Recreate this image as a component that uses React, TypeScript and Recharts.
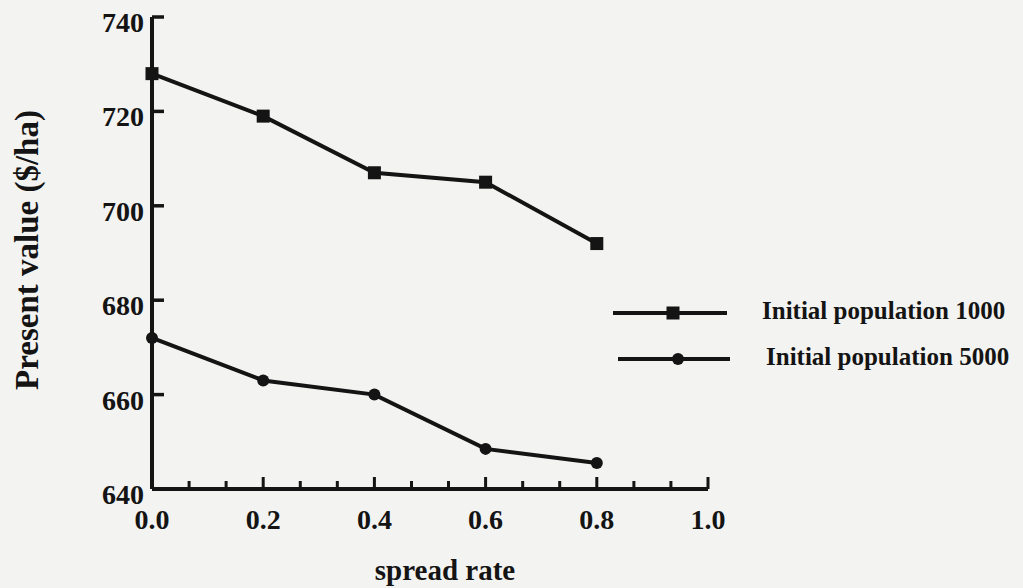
import { LineChart, Line, XAxis, YAxis, Legend } from "recharts"

const spreadRate = [0, 0.2, 0.4, 0.6, 0.8]
const initialPop1000 = [728, 719, 707, 705, 692]
const initialPop5000 = [672, 663, 660, 648.5, 645.5]

const xMajorTicks = [0, 0.2, 0.4, 0.6, 0.8, 1.0]
const xMinorTicks = [0.0667, 0.1333, 0.2667, 0.3333, 0.4667, 0.5333, 0.6667, 0.7333, 0.8667, 0.9333]
const yTicks = [640, 660, 680, 700, 720, 740]

const seriesNames = ["Initial population 1000", "Initial population 5000"]

const INK = "#141414"
const FONT = "'Liberation Serif', 'Times New Roman', serif"

const data = spreadRate.map((x, i) => ({
  x,
  p1000: initialPop1000[i],
  p5000: initialPop5000[i],
}))

const allXTicks = [...xMajorTicks, ...xMinorTicks].sort((a, b) => a - b)

const SquareDot = ({ cx, cy, index }: any) => (
  <rect key={`sq-${index}`} x={cx - 6.5} y={cy - 6.5} width={13} height={13} fill={INK} />
)

const RoundDot = ({ cx, cy, index }: any) => (
  <circle key={`ci-${index}`} cx={cx} cy={cy} r={6} fill={INK} />
)

// y ticks point inward (to the right of the axis)
const YTick = ({ x, y, payload }: any) => (
  <g>
    <line x1={x} x2={x + 12} y1={y} y2={y} stroke={INK} strokeWidth={3.5} />
    <text x={x - 8} y={y + 15} textAnchor="end" fontFamily={FONT} fontWeight="bold" fontSize={28} fill={INK}>
      {payload.value}
    </text>
  </g>
)

// x ticks point up; only the 0.2 steps get a label
const XTick = ({ x, y, payload }: any) => {
  const major = xMajorTicks.some((t) => Math.abs(t - payload.value) < 1e-6)
  return (
    <g>
      <line x1={x} x2={x} y1={y} y2={y - (major ? 12 : 8)} stroke={INK} strokeWidth={3} />
      {major && (
        <text x={x} y={y + 40} textAnchor="middle" fontFamily={FONT} fontWeight="bold" fontSize={28} fill={INK}>
          {payload.value.toFixed(1)}
        </text>
      )}
    </g>
  )
}

const CustomLegend = ({ payload }: any) => (
  <svg width={420} height={100}>
    {payload?.map((entry: any, index: number) => {
      const y = index === 0 ? 33 : 79
      const x0 = index === 0 ? 13 : 18
      const x1 = index === 0 ? 127 : 130
      const mx = index === 0 ? 73 : 78
      const tx = index === 0 ? 162 : 166
      return (
        <g key={index}>
          <line x1={x0} x2={x1} y1={y} y2={y} stroke={INK} strokeWidth={4} />
          {index === 0 ? (
            <rect x={mx - 6.5} y={y - 6.5} width={13} height={13} fill={INK} />
          ) : (
            <circle cx={mx} cy={y} r={6} fill={INK} />
          )}
          <text x={tx} y={y + 6} fontFamily={FONT} fontWeight="bold" fontSize={25} fill={INK}>
            {entry.value}
          </text>
        </g>
      )
    })}
  </svg>
)

export default function App() {
  return (
    <div style={{ position: "absolute", left: 0, top: 0, width: 1023, height: 588, background: "#f3f3f1" }}>
      <LineChart width={1023} height={588} data={data} margin={{ top: 17, right: 315, bottom: 0, left: 0 }}>
        <XAxis
          dataKey="x"
          type="number"
          domain={[0, 1]}
          ticks={allXTicks}
          interval={0}
          height={99}
          tickSize={0}
          tickMargin={0}
          tickLine={false}
          axisLine={{ stroke: INK, strokeWidth: 4 }}
          tick={<XTick />}
          label={{
            content: () => (
              <text x={445} y={580} textAnchor="middle" fontFamily={FONT} fontWeight="bold" fontSize={29} fill={INK}>
                spread rate
              </text>
            ),
          }}
        />
        <YAxis
          type="number"
          domain={[640, 740]}
          ticks={yTicks}
          interval={0}
          width={152}
          tickSize={0}
          tickMargin={0}
          tickLine={false}
          axisLine={{ stroke: INK, strokeWidth: 4 }}
          tick={<YTick />}
          label={{
            content: () => (
              <text
                x={27}
                y={250}
                transform="rotate(-90 27 250)"
                textAnchor="middle"
                dominantBaseline="central"
                fontFamily={FONT}
                fontWeight="bold"
                fontSize={33}
                fill={INK}
              >
                Present value ($/ha)
              </text>
            ),
          }}
        />
        <Legend
          layout="vertical"
          align="center"
          verticalAlign="middle"
          content={<CustomLegend />}
          wrapperStyle={{ left: 600, top: 280, width: 420, height: 100 }}
        />
        <Line
          name={seriesNames[0]}
          dataKey="p1000"
          type="linear"
          stroke={INK}
          strokeWidth={4}
          dot={SquareDot}
          activeDot={false}
          isAnimationActive={false}
        />
        <Line
          name={seriesNames[1]}
          dataKey="p5000"
          type="linear"
          stroke={INK}
          strokeWidth={4}
          dot={RoundDot}
          activeDot={false}
          isAnimationActive={false}
        />
      </LineChart>
    </div>
  )
}
